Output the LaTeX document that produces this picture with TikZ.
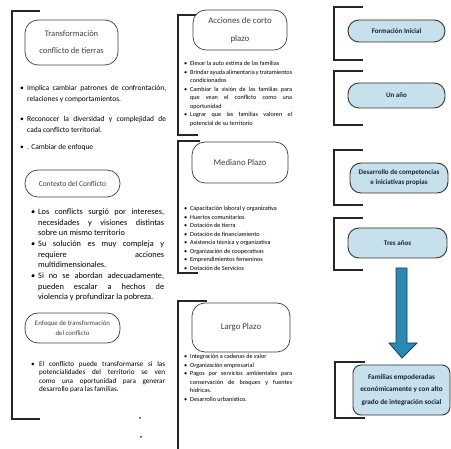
\documentclass[tikz,border=0pt]{standalone}
\usepackage{fontspec}
\setmainfont{Carlito}
\definecolor{boxblue}{HTML}{C6E0EC}
\definecolor{navy}{HTML}{1A2238}
\definecolor{arrowteal}{HTML}{2B88B4}
\definecolor{arrowedge}{HTML}{1F3E52}
\newlength\bind
\newcommand\bitem[1]{\par\hangindent=\bind\hangafter=1\noindent\makebox[\bind][l]{\textbullet}#1\par}
\newcommand\nohyph{\hyphenpenalty=10000\exhyphenpenalty=10000\tolerance=9999\emergencystretch=20pt}
\begin{document}
\begin{tikzpicture}[x=1pt,y=-1pt,
  brk/.style={line width=1.1pt, draw=black!85},
  tbox/.style={draw=black!75, line width=0.7pt, rounded corners=13pt, fill=white, align=center, text=black!75, inner sep=0pt},
  bbox/.style={draw=black!80, line width=0.9pt, rounded corners=11pt, fill=boxblue, align=center, text=navy, inner sep=1pt, font=\fontsize{7}{10}\selectfont\bfseries},
  ltext/.style={anchor=north west, inner sep=0pt, text=black, align=justify, font=\fontsize{7.5}{10.7}\selectfont\nohyph},
  mtext/.style={anchor=north west, inner sep=0pt, text=black, align=justify, font=\fontsize{6.2}{8.5}\selectfont\nohyph},
]
\useasboundingbox (0,0) rectangle (451,449);
\fill[white] (0,0) rectangle (451,449);

% ---------- left column ----------
\draw[brk] (40,11) -- (12,11) -- (12,419) -- (40,419);
\node[tbox, minimum width=93pt, minimum height=45pt, font=\fontsize{8.5}{17}\selectfont] (t1) at (71.5,42.5) {Transformación\\conflicto de tierras};
\node[ltext, text width=146pt, font=\fontsize{7.5}{11}\selectfont\nohyph] (l1) at (20,79) {\setlength\bind{7pt}%
\bitem{Implica cambiar patrones de confrontación,\linebreak relaciones y comportamientos.}\vspace{9pt}
\bitem{Reconocer la diversidad y complejidad de\linebreak cada conflicto territorial.}\vspace{6pt}
\bitem{. Cambiar de enfoque}};

\node[tbox, minimum width=95pt, minimum height=27pt, font=\fontsize{7.5}{10}\selectfont] (t2) at (72.5,183.5) {Contexto del Conflicto};
\node[ltext, text width=133pt, font=\fontsize{8.3}{10.7}\selectfont\nohyph] (l2) at (31,203.5) {\setlength\bind{7pt}%
\bitem{Los conflicts surgió por intereses,\linebreak necesidades y visiones distintas\linebreak sobre un mismo territorio}
\bitem{Su solución es muy compleja y\linebreak requiere\hfill acciones\linebreak multidimensionales.}
\bitem{Si no se abordan adecuadamente,\linebreak pueden escalar a hechos de\linebreak violencia y profundizar la pobreza.}};

\node[tbox, minimum width=95pt, minimum height=30pt, font=\fontsize{6.8}{10}\selectfont] (t3) at (72.5,328) {Enfoque de transformación\\del conflicto};
\node[ltext, text width=134pt, font=\fontsize{7.2}{8.3}\selectfont\nohyph] (l3) at (31,358) {\setlength\bind{8pt}%
\bitem{El conflicto puede transformarse si las\linebreak potencialidades del territorio se ven\linebreak como una oportunidad para generar\linebreak desarrollo para las familias.}};

\fill[black!80] (140,418) circle (1pt);
\fill[black!80] (141,437) circle (1pt);

% ---------- middle column ----------
\draw[brk] (200,15) -- (178,15) -- (178,135) -- (198,135);
\node[tbox, minimum width=94pt, minimum height=40pt, font=\fontsize{8.8}{18}\selectfont] (m1) at (240,30) {Acciones de corto\\plazo};
\node[mtext, text width=108pt] (b1) at (184,57) {\setlength\bind{6pt}%
\bitem{Elevar la auto estima de las familias}
\bitem{Brindar ayuda alimentaria y tratamientos\linebreak condicionados}
\bitem{Cambiar la visión de las familias para\linebreak que vean el conflicto como una\linebreak oportunidad}
\bitem{Lograr que las familias valoren el\linebreak potencial de su territorio}};

\draw[brk] (200,141) -- (178,141) -- (178,273) -- (198,273);
\node[tbox, minimum width=96pt, minimum height=41pt, font=\fontsize{8.8}{12}\selectfont] (m2) at (240,162.5) {Mediano Plazo};
\node[mtext, text width=108pt] (b2) at (184,202) {\setlength\bind{6pt}%
\bitem{Capacitación laboral y organizativa}
\bitem{Huertos comunitarios}
\bitem{Dotación de tierra}
\bitem{Dotación de financiamiento}
\bitem{Asistencia técnica y organizativa}
\bitem{Organización de cooperativas}
\bitem{Emprendimientos femeninos}
\bitem{Dotación de Servicios}};

\draw[brk] (207,301) -- (178,301) -- (178,449);
\node[tbox, minimum width=98pt, minimum height=49pt, font=\fontsize{8.8}{12}\selectfont] (m3) at (241,327.5) {Largo Plazo};
\node[mtext, text width=108pt] (b3) at (184,350) {\setlength\bind{6pt}%
\bitem{Integración a cadenas de valor}
\bitem{Organización empresarial}
\bitem{Pagos por servicios ambientales para\linebreak conservación de bosques y fuentes\linebreak hídricas.}
\bitem{Desarrollo urbanístico.}};

% ---------- right column ----------
\draw[brk] (363,7) -- (334,7) -- (334,60) -- (363,60);
\node[bbox, minimum width=97pt, minimum height=22pt] (r1) at (396.5,31) {Formación Inicial};
\draw[brk] (363,71) -- (334,71) -- (334,125) -- (363,125);
\node[bbox, minimum width=97pt, minimum height=25pt] (r2) at (396.5,95.5) {Un año};
\draw[brk] (363,150) -- (334,150) -- (334,205) -- (363,205);
\node[bbox, minimum width=98pt, minimum height=30pt] (r3) at (399,178) {Desarrollo de competencias\\e iniciativas propias};
\draw[brk] (363,218) -- (334,218) -- (334,270) -- (363,270);
\node[bbox, minimum width=99pt, minimum height=30pt] (r4) at (397.5,243) {Tres años};
\draw[brk] (365,362) -- (335,362) -- (335,418) -- (365,418);
\node[bbox, rounded corners=8pt, minimum width=97pt, minimum height=50pt, font=\fontsize{7.2}{12.5}\selectfont\bfseries] (r5) at (401.5,390) {Familias empoderadas\\económicamente y con alto\\grado de integración social};

\draw[arrowedge, line width=0.8pt, fill=arrowteal]
  (396,268) -- (407,268) -- (407,343) -- (417,343) -- (402,358) -- (389,343) -- (396,343) -- cycle;
\end{tikzpicture}
\end{document}
